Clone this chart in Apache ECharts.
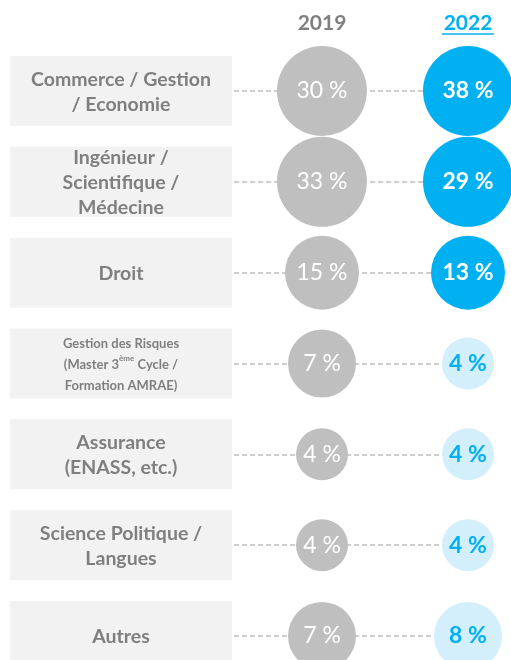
<!DOCTYPE html>
<html>
<head>
<meta charset="utf-8">
<script src="https://cdn.jsdelivr.net/npm/echarts@6/dist/echarts.min.js"></script>
<style>
html,body{margin:0;padding:0;background:#fff;}
#chart{width:511px;height:660px;}
</style>
</head>
<body>
<div id="chart"></div>
<script>
// filières, in display order
var categories = [
  'Commerce / Gestion\n/ Economie',
  'Ingénieur /\nScientifique /\nMédecine',
  'Droit',
  'Gestion des Risques\n(Master 3ème Cycle /\nFormation AMRAE)',
  'Assurance\n(ENASS, etc.)',
  'Science Politique /\nLangues',
  'Autres'
];
var years = ['2019', '2022'];
var values2019 = [30, 33, 15, 7, 4, 4, 7];
var values2022 = [38, 29, 13, 4, 4, 4, 8];

var FONT = 'Lato, "Open Sans", sans-serif';
var GREY_TXT = '#7f7f7f';
var BLUE = '#00b0f0';
var LIGHT_BLUE = '#d3effc';
var GREY_DOT = '#bfbfbf';

// bubble diameter by value (stepped, like the original)
function bubble(v) {
  if (v >= 20) return 90;
  if (v >= 10) return 74;
  if (v >= 6) return 68;
  return 52;
}

function toRich(name) {
  var st = name.length > 40 ? 's' : 't';
  return name.split('\n').map(function (line) {
    return '{' + st + '|' + line.replace('3ème', '3}{sup|ème}{' + st + '|') + '}';
  }).join('\n');
}

var myChart = echarts.init(document.getElementById('chart'));

var boxData = categories.map(function (c, i) { return [0, i]; });
var d2019 = values2019.map(function (v, i) {
  return {
    value: [0, i, v],
    symbolSize: bubble(v),
    itemStyle: {color: GREY_DOT, opacity: 1},
    label: {color: '#fff', fontWeight: 'normal'}
  };
});
var d2022 = values2022.map(function (v, i) {
  var big = v >= 10;
  return {
    value: [1, i, v],
    symbolSize: bubble(v),
    itemStyle: {color: big ? BLUE : LIGHT_BLUE, opacity: 1},
    label: {color: big ? '#fff' : BLUE, fontWeight: 'bold'}
  };
});

var option = {
  animation: false,
  backgroundColor: '#fff',
  grid: [
    {left: 10, right: 43, top: 91, bottom: 24},
    {left: 322, right: 43, top: 91, bottom: 24}
  ],
  xAxis: [
    {gridIndex: 0, type: 'value', min: 0, max: 1, show: false},
    {
      gridIndex: 1, type: 'category', data: years, boundaryGap: false, position: 'top',
      axisLine: {show: false}, axisTick: {show: false}, splitLine: {show: false},
      axisLabel: {
        margin: 57,
        formatter: function (v) { return v === '2022' ? '{b|' + v + '}' : '{a|' + v + '}'; },
        rich: {
          a: {fontFamily: FONT, fontSize: 21, fontWeight: 'bold', color: GREY_TXT},
          b: {fontFamily: FONT, fontSize: 21, fontWeight: 'bold', color: BLUE}
        }
      }
    }
  ],
  yAxis: [
    {
      gridIndex: 0, type: 'category', data: categories, inverse: true, boundaryGap: false,
      axisLine: {show: false}, axisTick: {show: false}, axisLabel: {show: false},
      splitLine: {show: true, lineStyle: {color: GREY_DOT, type: [5, 3], width: 1.5}}
    },
    {
      gridIndex: 1, type: 'category', data: categories, inverse: true, boundaryGap: false,
      show: false
    }
  ],
  series: [
    {
      type: 'custom',
      xAxisIndex: 0, yAxisIndex: 0,
      data: boxData,
      encode: {x: 0, y: 1},
      clip: false,
      z: 2,
      renderItem: function (params, api) {
        var p = api.coord([0, api.value(1)]);
        var name = categories[params.dataIndex];
        return {
          type: 'group',
          children: [
            {type: 'rect', shape: {x: p[0], y: p[1] - 35, width: 222, height: 70}, style: {fill: '#f2f2f2'}},
            {
              type: 'text', x: p[0] + 111, y: p[1] + 1,
              style: {
                text: toRich(name), align: 'center', verticalAlign: 'middle',
                fill: GREY_TXT,
                rich: {
                  t: {fontFamily: FONT, fontSize: 19.5, fontWeight: 'bold', fill: GREY_TXT, lineHeight: 25, align: 'center'},
                  s: {fontFamily: FONT, fontSize: 13, fontWeight: 'bold', fill: GREY_TXT, lineHeight: 21, align: 'center'},
                  sup: {fontFamily: FONT, fontSize: 8, fontWeight: 'bold', fill: GREY_TXT, lineHeight: 21, verticalAlign: 'top', align: 'center'}
                }
              }
            }
          ]
        };
      }
    },
    {
      name: '2019', type: 'scatter', xAxisIndex: 1, yAxisIndex: 1,
      data: d2019, z: 3,
      label: {show: true, position: 'inside', fontFamily: FONT, fontSize: 23,
        formatter: function (p) { return p.value[2] + ' %'; }}
    },
    {
      name: '2022', type: 'scatter', xAxisIndex: 1, yAxisIndex: 1,
      data: d2022, z: 3,
      label: {show: true, position: 'inside', fontFamily: FONT, fontSize: 23,
        formatter: function (p) { return p.value[2] + ' %'; }}
    }
  ]
};
myChart.setOption(option);

// underline under the 2022 header
var px = myChart.convertToPixel({xAxisIndex: 1}, '2022');
myChart.setOption({
  graphic: [{type: 'line', shape: {x1: px - 26, y1: 34, x2: px + 26, y2: 34}, style: {stroke: BLUE, lineWidth: 1.5}}]
});
</script>
</body>
</html>
